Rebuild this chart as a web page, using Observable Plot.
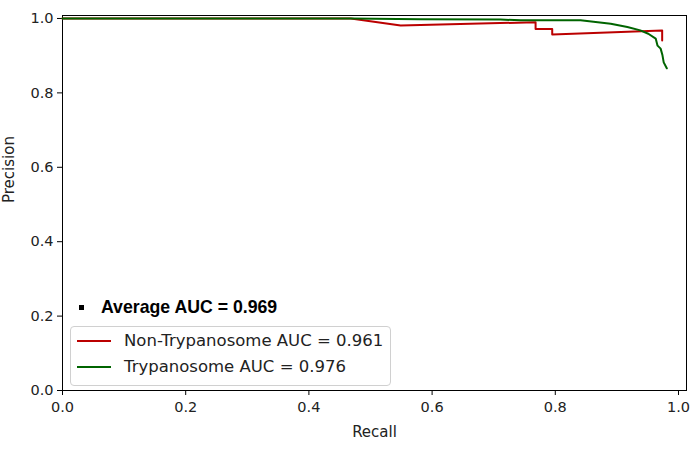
<!DOCTYPE html>
<html>
<head>
<meta charset="utf-8">
<script src="https://cdn.jsdelivr.net/npm/d3@7"></script>
<script src="https://cdn.jsdelivr.net/npm/@observablehq/plot@0.6"></script>
<style>
  body { margin: 0; background: #fff; }
  #wrap { position: relative; width: 692px; height: 451px; font-family: "DejaVu Sans", sans-serif; }
  #avg { position: absolute; left: 79px; top: 296px; font-family: "Liberation Sans", Arial, sans-serif; font-size: 17.7px; font-weight: bold; color: #000; white-space: nowrap; line-height: 22px; }
  #avg .sq { display: inline-block; width: 5px; height: 5px; background: #000; margin-right: 17px; vertical-align: middle; position: relative; top: -1px; }
  #leg { position: absolute; left: 70px; top: 326px; width: 321px; height: 60px; border: 1px solid #d0d0d0; border-radius: 4px; background: rgba(255,255,255,0.8); box-sizing: border-box; }
  .row { position: absolute; left: 6px; white-space: nowrap; font-size: 16.5px; color: #222; line-height: 20px; }
  .row .ln { display: inline-block; width: 34px; height: 2px; vertical-align: middle; margin-right: 13px; position: relative; top: -1px; }
</style>
</head>
<body>
<div id="wrap"></div>
<script>
const seriesNames = ["Non-Trypanosome", "Trypanosome"];
const seriesColors = ["#bb0000", "#006400"];
const seriesAUC = [0.961, 0.976];
const averageAUC = 0.969;

const redRecall    = [0, 0.468, 0.549, 0.768, 0.768, 0.795, 0.795, 0.9735, 0.9735];
const redPrecision = [1.0, 1.0, 0.981, 0.990, 0.972, 0.972, 0.957, 0.968, 0.941];

const greenRecall    = [0, 0.468, 0.581, 0.711, 0.744, 0.841, 0.890, 0.917, 0.938, 0.951, 0.963, 0.966, 0.971, 0.974, 0.976, 0.981];
const greenPrecision = [1.0, 1.0, 0.998, 0.997, 0.995, 0.995, 0.986, 0.977, 0.968, 0.959, 0.946, 0.927, 0.919, 0.901, 0.882, 0.866];

const xTicks = [0, 0.2, 0.4, 0.6, 0.8, 1.0];
const yTicks = [0, 0.2, 0.4, 0.6, 0.8, 1.0];

const rows = [];
redRecall.forEach((r, i) => rows.push({series: seriesNames[0], recall: r, precision: redPrecision[i]}));
greenRecall.forEach((r, i) => rows.push({series: seriesNames[1], recall: r, precision: greenPrecision[i]}));

const fmt = d3.format(".1f");

const chart = Plot.plot({
  width: 692,
  height: 451,
  marginLeft: 62,
  marginRight: 6,
  marginTop: 15,
  marginBottom: 61,
  style: { fontFamily: "DejaVu Sans, sans-serif", fontSize: "14.5px", color: "#222", background: "#fff" },
  x: { domain: [0, 1.013], label: null },
  y: { domain: [0, 1.008], label: null },
  color: { domain: seriesNames, range: seriesColors },
  marks: [
    Plot.frame({ stroke: "#000", strokeWidth: 1 }),
    Plot.axisX({ ticks: xTicks, tickFormat: fmt, tickSize: 5, tickPadding: 6, fontSize: 14.5, stroke: "#000", fill: "#222" }),
    Plot.axisY({ ticks: yTicks, tickFormat: fmt, tickSize: 5, tickPadding: 4, fontSize: 14.5, stroke: "#000", fill: "#222" }),
    Plot.line(rows, { x: "recall", y: "precision", z: "series", stroke: "series", strokeWidth: 2, curve: "linear" }),
    Plot.text(["Recall"], { frameAnchor: "bottom", dy: 46, fontSize: 15, fill: "#222" }),
    Plot.text(["Precision"], { frameAnchor: "left", dx: -53, rotate: -90, fontSize: 15, fill: "#222" })
  ]
});

const wrap = document.getElementById("wrap");
wrap.appendChild(chart);

const avg = document.createElement("div");
avg.id = "avg";
avg.innerHTML = `<span class="sq"></span>Average AUC = ${averageAUC.toFixed(3)}`;
wrap.appendChild(avg);

const leg = document.createElement("div");
leg.id = "leg";
seriesNames.forEach((name, i) => {
  const row = document.createElement("div");
  row.className = "row";
  row.style.top = (i === 0 ? 4 : 30) + "px";
  row.innerHTML = `<span class="ln" style="background:${seriesColors[i]}"></span>${name} AUC = ${seriesAUC[i].toFixed(3)}`;
  leg.appendChild(row);
});
wrap.appendChild(leg);
</script>
</body>
</html>
